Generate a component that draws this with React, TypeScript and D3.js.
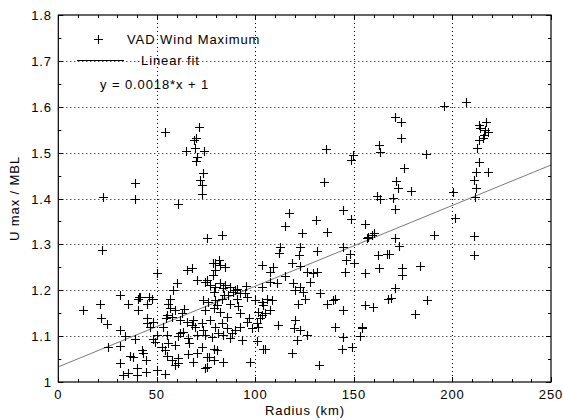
import React, { useEffect, useRef } from "react";
import * as d3 from "d3";

// radius (km) and U max / MBL
const radius = [
  22.8, 22.3, 38.9, 38.9, 54.2, 60.9, 71.4, 69.7, 68.9, 69.4, 64.8, 74.0, 70.3, 69.7, 73.6, 71.9, 72.8, 73.1, 75.3, 82.9,
  135.9, 149.4, 148.4, 134.9, 117.3, 115.1, 130.8, 136.5, 123.9, 144.7, 148.4, 155.7, 112.5, 112.0, 122.7, 122.3, 131.2, 144.7, 148.1, 156.5,
  195.8, 207.0, 170.9, 173.8, 173.8, 162.8, 163.3, 186.6, 175.5, 171.4, 172.6, 178.9, 161.6, 163.3, 169.7, 170.9, 156.9, 159.1, 160.3, 170.9,
  173.1, 162.4, 166.7, 168.0, 190.7, 200.2, 201.4, 210.7, 211.0, 213.7, 217.1, 214.1, 216.6, 217.8, 215.8, 215.4, 213.7, 212.7, 213.3, 212.0,
  217.8, 210.7, 212.0, 211.5, 155.7, 162.9, 174.3, 174.3, 183.6, 170.9, 167.5, 168.7, 187.0, 155.7, 159.6, 181.1, 154.0, 153.1,
  79.5, 82.1, 84.6, 103.2, 108.8, 107.5, 118.5, 122.7, 126.1, 129.4, 131.2, 146.0, 150.1, 145.5, 75.3, 78.6, 77.0, 79.5, 82.1, 84.6,
  87.2, 90.6, 88.8, 92.2, 94.8, 78.8, 107.5, 110.9, 119.3, 120.2, 122.7, 127.8, 124.4, 132.8, 139.6, 140.5, 136.2, 144.7, 73.6, 76.1,
  79.5, 82.9, 87.2, 90.6, 95.6, 99.8, 103.2, 105.8, 108.3, 104.1, 107.5, 101.5, 121.8, 74.5, 78.8, 82.1, 85.5, 92.2, 72.8, 77.0,
  79.5, 82.9, 85.5, 89.7, 92.2, 95.6, 98.2, 100.7, 102.4, 103.2, 101.5, 111.7, 120.2, 119.4, 122.7, 126.1, 121.0, 140.5, 144.7, 154.0,
  148.9, 143.9, 73.6, 74.5, 77.9, 81.2, 83.8, 88.0, 93.1, 78.8, 80.4, 76.3, 78.8, 83.8, 74.5, 104.1, 104.9, 118.5, 132.1,
  12.7, 21.2, 21.9, 24.6, 25.4, 31.3, 35.5, 31.3, 33.9, 31.3, 38.9, 40.6, 41.5, 44.9, 40.6, 47.4, 49.9, 31.3, 32.9, 35.5,
  39.8, 39.8, 36.4, 38.1, 42.3, 42.8, 44.6, 44.9, 45.2, 46.5, 48.2, 48.2, 49.1, 49.9, 49.9, 54.2, 54.2, 52.5, 55.0, 53.3,
  55.0, 55.8, 55.0, 54.7, 57.6, 57.6, 59.2, 59.2, 55.8, 56.7, 60.1, 56.7, 60.9, 61.8, 59.2, 60.9, 62.6, 65.2, 67.7, 70.3,
  65.2, 67.7, 68.2, 69.4, 70.3, 66.0, 68.5, 75.3, 75.3, 72.8, 44.6, 78.7, 81.4, 79.5, 74.5, 83.8, 89.7, 103.2, 80.4, 87.2,
  70.3, 60.9, 97.3, 41.1, 46.2, 64.0, 58.0, 86.0, 91.0, 97.0, 63.5, 66.5, 95.0, 101.0, 105.0, 115.0, 125.0, 66.0, 62.0, 84.0
];
const ratio = [
  1.404, 1.288, 1.433, 1.398, 1.544, 1.387, 1.555, 1.532, 1.527, 1.509, 1.504, 1.504, 1.491, 1.481, 1.456, 1.440, 1.429, 1.410, 1.313, 1.320,
  1.507, 1.495, 1.485, 1.436, 1.369, 1.340, 1.353, 1.327, 1.324, 1.375, 1.355, 1.344, 1.295, 1.282, 1.295, 1.277, 1.285, 1.295, 1.280, 1.313,
  1.602, 1.611, 1.577, 1.566, 1.531, 1.516, 1.502, 1.498, 1.466, 1.438, 1.422, 1.417, 1.405, 1.398, 1.402, 1.377, 1.317, 1.320, 1.324, 1.313,
  1.296, 1.277, 1.280, 1.279, 1.320, 1.415, 1.357, 1.318, 1.277, 1.560, 1.567, 1.553, 1.549, 1.545, 1.538, 1.531, 1.527, 1.510, 1.480, 1.458,
  1.458, 1.440, 1.422, 1.404, 1.237, 1.248, 1.248, 1.233, 1.253, 1.204, 1.182, 1.184, 1.179, 1.168, 1.164, 1.148, 1.119, 1.100,
  1.259, 1.255, 1.251, 1.255, 1.251, 1.240, 1.259, 1.253, 1.240, 1.237, 1.240, 1.266, 1.260, 1.240, 1.222, 1.233, 1.211, 1.208, 1.215, 1.211,
  1.206, 1.202, 1.197, 1.195, 1.193, 1.197, 1.219, 1.215, 1.215, 1.200, 1.208, 1.219, 1.197, 1.193, 1.179, 1.182, 1.171, 1.157, 1.179, 1.175,
  1.179, 1.182, 1.171, 1.182, 1.186, 1.179, 1.175, 1.182, 1.179, 1.168, 1.157, 1.153, 1.171, 1.157, 1.161, 1.153, 1.142, 1.150, 1.128, 1.135,
  1.120, 1.128, 1.117, 1.113, 1.120, 1.131, 1.117, 1.128, 1.139, 1.146, 1.120, 1.124, 1.135, 1.117, 1.113, 1.102, 1.092, 1.120, 1.099, 1.117,
  1.077, 1.071, 1.113, 1.102, 1.099, 1.106, 1.102, 1.106, 1.092, 1.073, 1.070, 1.055, 1.048, 1.044, 1.030, 1.071, 1.073, 1.064, 1.037,
  1.158, 1.171, 1.139, 1.126, 1.077, 1.190, 1.171, 1.113, 1.100, 1.078, 1.093, 1.182, 1.186, 1.171, 1.158, 1.182, 1.238, 1.041, 1.015, 1.019,
  1.030, 1.015, 1.057, 1.054, 1.070, 1.064, 1.048, 1.139, 1.128, 1.120, 1.131, 1.093, 1.088, 1.102, 1.026, 1.017, 1.070, 1.077, 1.057, 1.120,
  1.102, 1.084, 1.146, 1.139, 1.142, 1.048, 1.037, 1.158, 1.171, 1.161, 1.215, 1.182, 1.100, 1.106, 1.081, 1.052, 1.151, 1.244, 1.248, 1.222,
  1.131, 1.124, 1.135, 1.120, 1.102, 1.097, 1.044, 1.055, 1.033, 1.076, 1.022, 1.259, 1.266, 1.244, 1.218, 1.204, 1.200, 1.208, 1.168, 1.095,
  1.063, 1.041, 1.044, 1.186, 1.186, 1.160, 1.200, 1.190, 1.165, 1.140, 1.110, 1.085, 1.210, 1.090, 1.150, 1.230, 1.180, 1.060, 1.135, 1.190
];

// linear fit as drawn
const fitX = [0, 250];
const fitY = [1.033, 1.473];

const xTicks = [0, 50, 100, 150, 200, 250];
const yTicks = [1, 1.1, 1.2, 1.3, 1.4, 1.5, 1.6, 1.7, 1.8];
const xMinor = d3.range(0, 251, 10);
const yMinor = d3.range(1, 1.801, 0.05);

const App = () => {
  const ref = useRef<SVGSVGElement>(null);

  useEffect(() => {
    const svg = d3.select(ref.current);
    svg.selectAll("*").remove();

    const left = 58.3, right = 551, top = 15, bottom = 382;
    const x = d3.scaleLinear().domain([0, 250]).range([left, right]);
    const y = d3.scaleLinear().domain([1, 1.8]).range([bottom, top]);
    const font = "Arial, 'Liberation Sans', sans-serif";
    const txt = (sel: any) => sel.style("font-family", font).style("font-size", "13px").style("letter-spacing", "0.9px");

    svg.append("rect").attr("width", 563).attr("height", 420).attr("fill", "#fff");

    // grid
    const grid = svg.append("g").attr("stroke", "#000").attr("stroke-width", 1).attr("stroke-dasharray", "1,3");
    xTicks.slice(1, -1).forEach((t) => {
      grid.append("line").attr("x1", Math.round(x(t)) + 0.5).attr("x2", Math.round(x(t)) + 0.5).attr("y1", top).attr("y2", bottom);
    });
    yTicks.slice(1, -1).forEach((t) => {
      grid.append("line").attr("y1", Math.round(y(t)) + 0.5).attr("y2", Math.round(y(t)) + 0.5).attr("x1", left).attr("x2", right);
    });

    // ticks (inward, all four sides)
    const ticks = svg.append("g").attr("stroke", "#000").attr("stroke-width", 1);
    xMinor.forEach((t) => {
      const len = t % 50 === 0 ? 5 : 3;
      const px = Math.round(x(t)) + 0.5;
      ticks.append("line").attr("x1", px).attr("x2", px).attr("y1", bottom).attr("y2", bottom - len);
      ticks.append("line").attr("x1", px).attr("x2", px).attr("y1", top).attr("y2", top + len);
    });
    yMinor.forEach((t, i) => {
      const len = i % 2 === 0 ? 5 : 3;
      const py = Math.round(y(t)) + 0.5;
      ticks.append("line").attr("y1", py).attr("y2", py).attr("x1", left).attr("x2", left + len);
      ticks.append("line").attr("y1", py).attr("y2", py).attr("x1", right).attr("x2", right - len);
    });

    // fit line
    const line = d3.line<number>().x((d) => x(d)).y((d, i) => y(fitY[i]));
    svg.append("path").datum(fitX).attr("d", line).attr("fill", "none").attr("stroke", "#7a7a7a").attr("stroke-width", 1);

    // markers
    const s = 4.5;
    const plus = (px: number, py: number) => `M${px - s},${py}H${px + s}M${px},${py - s}V${py + s}`;
    svg.append("path")
      .attr("d", radius.map((r, i) => plus(Math.round(x(r)) + 0.5, Math.round(y(ratio[i])) + 0.5)).join(""))
      .attr("fill", "none").attr("stroke", "#000").attr("stroke-width", 1.1);

    // box
    svg.append("rect").attr("x", left).attr("y", top).attr("width", right - left).attr("height", bottom - top)
      .attr("fill", "none").attr("stroke", "#000").attr("stroke-width", 1.2);

    // tick labels
    xTicks.forEach((t) => {
      svg.append("text").attr("x", x(t)).attr("y", 399).attr("text-anchor", "middle").call(txt).text(t);
    });
    yTicks.forEach((t) => {
      svg.append("text").attr("x", 52).attr("y", y(t) + 5).attr("text-anchor", "end").call(txt)
        .text(t === 1 ? "1" : t.toFixed(1));
    });

    svg.append("text").attr("x", 305).attr("y", 415).attr("text-anchor", "middle").call(txt).text("Radius (km)");
    svg.append("text").attr("transform", `translate(19,${(top + bottom) / 2}) rotate(-90)`).attr("text-anchor", "middle")
      .call(txt).text("U max / MBL");

    // legend
    svg.append("path").attr("d", plus(98.5, 39.5)).attr("stroke", "#000").attr("stroke-width", 1.1);
    svg.append("text").attr("x", 127).attr("y", 44).call(txt).text("VAD Wind Maximum");
    svg.append("line").attr("x1", 77).attr("x2", 124).attr("y1", 60.5).attr("y2", 60.5).attr("stroke", "#000");
    svg.append("text").attr("x", 141).attr("y", 65).call(txt).text("Linear fit");
    svg.append("text").attr("x", 100).attr("y", 89).call(txt).text("y = 0.0018*x + 1");
  }, []);

  return (
    <svg ref={ref} width={563} height={420} style={{ position: "absolute", left: 0, top: 0, display: "block" }} />
  );
};

export default App;
